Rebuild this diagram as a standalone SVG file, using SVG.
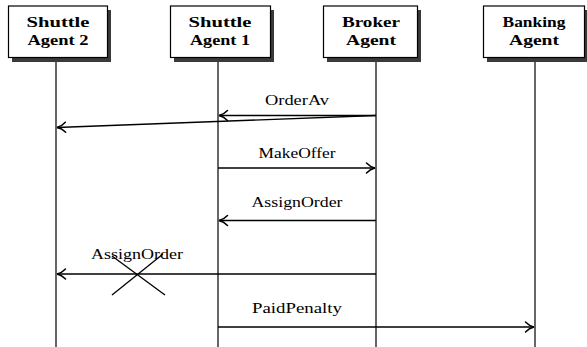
<svg xmlns="http://www.w3.org/2000/svg" width="587" height="347" viewBox="0 0 587 347">
  <style>
    .box { fill: #ffffff; stroke: #000000; stroke-width: 1.2; }
    .shadow { fill: #3a3a3a; }
    .title { font-family: "Liberation Serif", "Times New Roman", serif; font-weight: bold; font-size: 15px; text-anchor: middle; fill: #000000; }
    .life { stroke: #000000; stroke-width: 1.2; fill: none; }
    .msg { stroke: #000000; stroke-width: 1.3; fill: none; marker-end: url(#to); }
    .label { font-family: "Liberation Serif", "Times New Roman", serif; font-size: 15px; text-anchor: middle; fill: #000000; }
    .cross { stroke: #000000; stroke-width: 1.3; fill: none; }
  </style>
  <defs>
    <marker id="to" markerUnits="userSpaceOnUse" markerWidth="14" markerHeight="14" viewBox="-10 -7 14 14" refX="0" refY="0" orient="auto" overflow="visible">
      <path d="M -8.5,-5 C -5.5,-1.8 -2.5,-0.5 0,0 C -2.5,0.5 -5.5,1.8 -8.5,5" stroke="#000000" stroke-width="1.5" fill="none" stroke-linecap="round"/>
    </marker>
  </defs>

  <!-- lifelines -->
  <g id="lifelines">
    <line class="life" x1="56" y1="58" x2="56" y2="347"/>
    <line class="life" x1="218" y1="58" x2="218" y2="347"/>
    <line class="life" x1="376" y1="58" x2="376" y2="347"/>
    <line class="life" x1="535" y1="58" x2="535" y2="347"/>
  </g>

  <!-- participants -->
  <g id="shuttle2">
    <rect class="shadow" x="12" y="10" width="99" height="52"/>
    <rect class="box" x="8.5" y="6" width="99" height="51.5"/>
    <text class="title" x="58" y="27" textLength="63" lengthAdjust="spacingAndGlyphs">Shuttle</text>
    <text class="title" x="58" y="45" textLength="61" lengthAdjust="spacingAndGlyphs">Agent 2</text>
  </g>
  <g id="shuttle1">
    <rect class="shadow" x="174" y="10" width="100" height="52"/>
    <rect class="box" x="170.5" y="6" width="100" height="51.5"/>
    <text class="title" x="220" y="27" textLength="63" lengthAdjust="spacingAndGlyphs">Shuttle</text>
    <text class="title" x="220" y="45" textLength="60" lengthAdjust="spacingAndGlyphs">Agent 1</text>
  </g>
  <g id="broker">
    <rect class="shadow" x="327" y="10" width="94" height="52"/>
    <rect class="box" x="323.5" y="6" width="94" height="51.5"/>
    <text class="title" x="371" y="27" textLength="58" lengthAdjust="spacingAndGlyphs">Broker</text>
    <text class="title" x="371" y="45" textLength="50" lengthAdjust="spacingAndGlyphs">Agent</text>
  </g>
  <g id="banking">
    <rect class="shadow" x="487" y="10" width="101" height="52"/>
    <rect class="box" x="483.5" y="6" width="101" height="51.5"/>
    <text class="title" x="534" y="27" textLength="63" lengthAdjust="spacingAndGlyphs">Banking</text>
    <text class="title" x="534" y="45" textLength="50" lengthAdjust="spacingAndGlyphs">Agent</text>
  </g>

  <!-- messages -->
  <g id="connectors">
    <line class="msg" x1="376" y1="115.5" x2="219" y2="115.5"/>
    <line class="msg" x1="376" y1="115.5" x2="57" y2="127.5"/>
    <line class="msg" x1="218" y1="168" x2="375" y2="168"/>
    <line class="msg" x1="376" y1="220.5" x2="219" y2="220.5"/>
    <line class="msg" x1="376" y1="274" x2="57" y2="274"/>
    <line class="msg" x1="218" y1="327" x2="534" y2="327"/>
    <line class="cross" x1="112" y1="256" x2="165" y2="295"/>
    <line class="cross" x1="112" y1="295" x2="163" y2="254"/>
  </g>

  <g id="labels">
    <text class="label" x="297" y="105" textLength="64" lengthAdjust="spacingAndGlyphs">OrderAv</text>
    <text class="label" x="297" y="158" textLength="77" lengthAdjust="spacingAndGlyphs">MakeOffer</text>
    <text class="label" x="297" y="207" textLength="91" lengthAdjust="spacingAndGlyphs">AssignOrder</text>
    <text class="label" x="137" y="259" textLength="92" lengthAdjust="spacingAndGlyphs">AssignOrder</text>
    <text class="label" x="297" y="313" textLength="90" lengthAdjust="spacingAndGlyphs">PaidPenalty</text>
  </g>
</svg>
